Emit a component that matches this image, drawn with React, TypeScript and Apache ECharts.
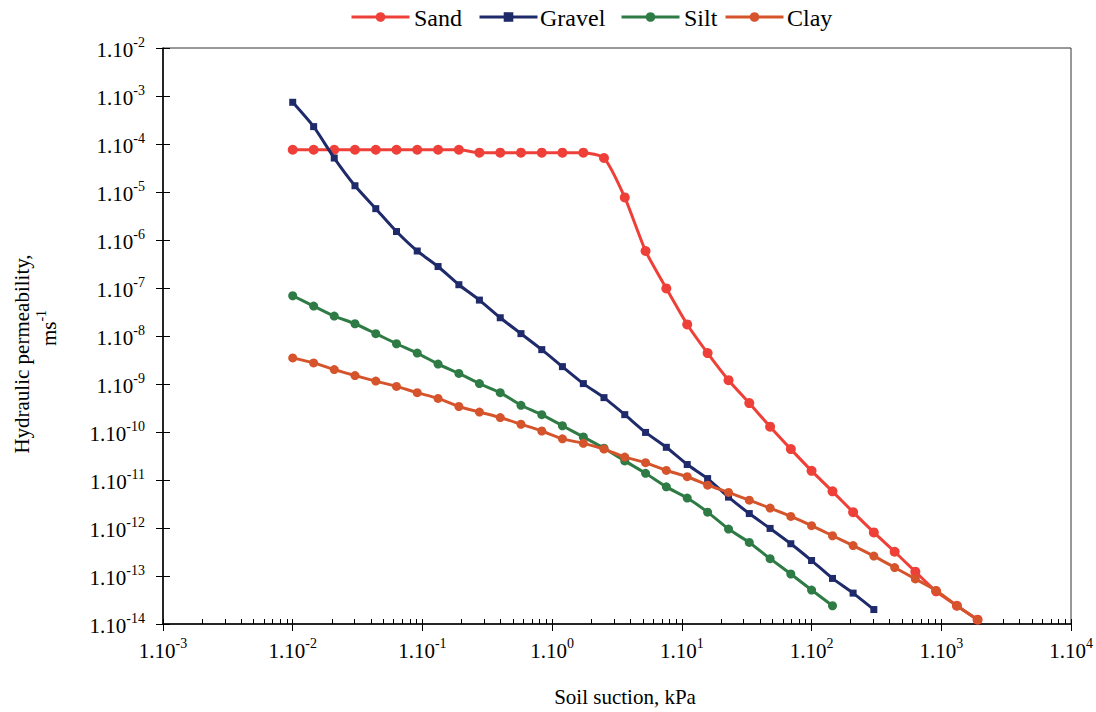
import { useEffect, useRef } from "react";
import * as echarts from "echarts";

// Soil suction (kPa) at each measured point
const suction = [
  0.01, 0.0145, 0.0209, 0.0302, 0.0437, 0.0631, 0.0912, 0.132, 0.191, 0.275,
  0.398, 0.575, 0.832, 1.2, 1.74, 2.51, 3.63, 5.25, 7.59, 11.0,
  15.8, 22.9, 33.1, 47.9, 69.2, 100, 145, 209, 302, 437,
  631, 912, 1320, 1905,
];

// Hydraulic permeability (m/s)
const sand = [
  7.6e-5, 7.6e-5, 7.6e-5, 7.6e-5, 7.6e-5, 7.6e-5, 7.6e-5, 7.6e-5, 7.6e-5, 6.6e-5,
  6.6e-5, 6.6e-5, 6.6e-5, 6.6e-5, 6.6e-5, 5.1e-5, 7.7e-6, 5.9e-7, 9.8e-8, 1.74e-8,
  4.4e-9, 1.2e-9, 4.0e-10, 1.29e-10, 4.4e-11, 1.55e-11, 5.8e-12, 2.14e-12, 8.1e-13, 3.2e-13,
  1.23e-13, 4.8e-14, 2.4e-14, 1.23e-14,
];
const gravel = [
  7.4e-4, 2.3e-4, 5.1e-5, 1.35e-5, 4.5e-6, 1.5e-6, 5.9e-7, 2.8e-7, 1.17e-7, 5.6e-8,
  2.4e-8, 1.12e-8, 5.2e-9, 2.3e-9, 1.02e-9, 5.2e-10, 2.3e-10, 9.8e-11, 4.8e-11, 2.1e-11,
  1.07e-11, 4.4e-12, 2.0e-12, 9.8e-13, 4.7e-13, 2.1e-13, 8.9e-14, 4.4e-14, 2.0e-14,
];
const silt = [
  6.9e-8, 4.2e-8, 2.6e-8, 1.8e-8, 1.12e-8, 6.9e-9, 4.4e-9, 2.6e-9, 1.66e-9, 1.02e-9,
  6.6e-10, 3.6e-10, 2.3e-10, 1.35e-10, 7.9e-11, 4.6e-11, 2.5e-11, 1.38e-11, 7.2e-12, 4.2e-12,
  2.14e-12, 9.5e-13, 5.0e-13, 2.3e-13, 1.1e-13, 5.1e-14, 2.4e-14,
];
const clay = [
  3.5e-9, 2.75e-9, 2.0e-9, 1.5e-9, 1.15e-9, 8.9e-10, 6.6e-10, 5.0e-10, 3.4e-10, 2.6e-10,
  2.0e-10, 1.45e-10, 1.05e-10, 7.2e-11, 5.8e-11, 4.4e-11, 3.0e-11, 2.3e-11, 1.58e-11, 1.17e-11,
  7.8e-12, 5.5e-12, 3.8e-12, 2.6e-12, 1.74e-12, 1.12e-12, 6.9e-13, 4.3e-13, 2.6e-13, 1.5e-13,
  8.7e-14, 5.0e-14, 2.4e-14, 1.23e-14,
];

const seriesNames = ["Sand", "Gravel", "Silt", "Clay"];
const seriesColors = ["#EE4038", "#1E2A6A", "#2F7B45", "#D5542C"];

// Tick labels (exponents of "1.10^n")
const xTickExponents = ["-3", "-2", "-1", "0", "1", "2", "3", "4"];
const yTickExponents = ["-14", "-13", "-12", "-11", "-10", "-9", "-8", "-7", "-6", "-5", "-4", "-3", "-2"];

const FONT = "Liberation Serif";

// legend layout (icon left edge, label left edge)
const legendIconLeft = [350, 478, 620, 724];
const legendTextLeft = [414, 540, 684, 787];

const xMajor = xTickExponents.map((e) => Number("1e" + e));
const yMajor = yTickExponents.map((e) => Number("1e" + e));
const xMinor: number[] = [];
for (let d = -3; d < 4; d++) {
  for (let m = 2; m <= 9; m++) xMinor.push(Number(m + "e" + d));
}

const tickRich = {
  b: { fontFamily: FONT, fontSize: 21, color: "#000", verticalAlign: "bottom", lineHeight: 25 },
  e: { fontFamily: FONT, fontSize: 14, color: "#000", verticalAlign: "top", lineHeight: 14 },
};
const tickFormatter = (v: number) => `{b|1.10}{e|${Math.round(Math.log10(v))}}`;

const pairs = (vals: number[]) => vals.map((v, i) => [suction[i], v]);

export default function App() {
  const ref = useRef<HTMLDivElement>(null);
  useEffect(() => {
    const chart = echarts.init(ref.current!, null, { renderer: "svg" });
    const dataSets = [sand, gravel, silt, clay];
    chart.setOption({
      animation: false,
      backgroundColor: "#fff",
      textStyle: { fontFamily: FONT, color: "#000" },
      grid: {
        left: 163,
        right: 25,
        top: 48,
        bottom: 87,
        show: true,
        borderColor: "#333",
        borderWidth: 1,
        backgroundColor: "transparent",
      },
      legend: seriesNames.map((name, i) => ({
        top: 11,
        left: legendIconLeft[i],
        itemWidth: 58,
        itemHeight: 12,
        padding: 0,
        data: [name],
        lineStyle: { width: 3 },
        formatter: () => "",
        textStyle: { fontSize: 1 },
        selectedMode: false,
      })),
      xAxis: [
        {
          type: "log",
          logBase: 10,
          min: 0.001,
          max: 10000,
          position: "bottom",
          axisLine: { show: true, lineStyle: { color: "#000", width: 1.5 } },
          axisTick: { show: true, inside: false, length: 7, customValues: xMajor, lineStyle: { color: "#000" } },
          axisLabel: { customValues: xMajor, formatter: tickFormatter, rich: tickRich, margin: 12 },
          splitLine: { show: false },
          name: "Soil suction, kPa",
          nameLocation: "middle",
          nameGap: 62,
          nameTextStyle: { fontFamily: FONT, fontSize: 21, color: "#000", padding: [0, 0, 0, 16] },
        },
        {
          type: "log",
          logBase: 10,
          min: 0.001,
          max: 10000,
          position: "bottom",
          axisLine: { show: false },
          axisTick: { show: true, inside: true, length: 5, customValues: [...xMajor, ...xMinor], lineStyle: { color: "#000" } },
          axisLabel: { show: false },
          splitLine: { show: false },
        },
      ],
      yAxis: [
        {
          type: "log",
          logBase: 10,
          min: 1e-14,
          max: 1e-2,
          position: "left",
          axisLine: { show: true, lineStyle: { color: "#000", width: 1.5 } },
          axisTick: { show: true, inside: false, length: 7, customValues: yMajor, lineStyle: { color: "#000" } },
          axisLabel: { customValues: yMajor, formatter: tickFormatter, rich: tickRich, margin: 18 },
          splitLine: { show: false },
        },
        {
          type: "log",
          logBase: 10,
          min: 1e-14,
          max: 1e-2,
          position: "left",
          axisLine: { show: false },
          axisTick: { show: true, inside: true, length: 7, customValues: yMajor, lineStyle: { color: "#000" } },
          axisLabel: { show: false },
          splitLine: { show: false },
        },
      ],
      graphic: [
        ...seriesNames.map((name, i) => ({
          type: "text",
          x: legendTextLeft[i],
          y: 18,
          style: {
            text: name,
            fontFamily: FONT,
            fontSize: 24,
            fill: "#000",
            align: "left",
            verticalAlign: "middle",
          },
        })),
        {
          type: "text",
          x: 22,
          y: 354,
          rotation: Math.PI / 2,
          style: {
            text: "Hydraulic permeability,",
            fontFamily: FONT,
            fontSize: 21,
            fill: "#000",
            align: "center",
            verticalAlign: "middle",
          },
        },
        {
          type: "text",
          x: 47,
          y: 328,
          rotation: Math.PI / 2,
          style: {
            text: "{b|ms}{e|-1}",
            align: "center",
            verticalAlign: "middle",
            rich: {
              b: { fontFamily: FONT, fontSize: 21, fill: "#000", verticalAlign: "bottom", lineHeight: 25 },
              e: { fontFamily: FONT, fontSize: 14, fill: "#000", verticalAlign: "top", lineHeight: 14 },
            },
          },
        },
      ],
      series: dataSets.map((vals, i) => ({
        name: seriesNames[i],
        type: "line",
        xAxisIndex: 0,
        yAxisIndex: 0,
        data: pairs(vals),
        smooth: 0.2,
        symbol: i === 1 ? "rect" : "circle",
        symbolSize: i === 1 ? 7 : i === 0 ? 10 : 9,
        itemStyle: { color: seriesColors[i] },
        lineStyle: { color: seriesColors[i], width: 3 },
        z: 2 + i,
      })),
    });
    return () => chart.dispose();
  }, []);
  return (
    <div
      ref={ref}
      style={{ position: "fixed", left: 0, top: 0, width: 1096, height: 712 }}
    />
  );
}
